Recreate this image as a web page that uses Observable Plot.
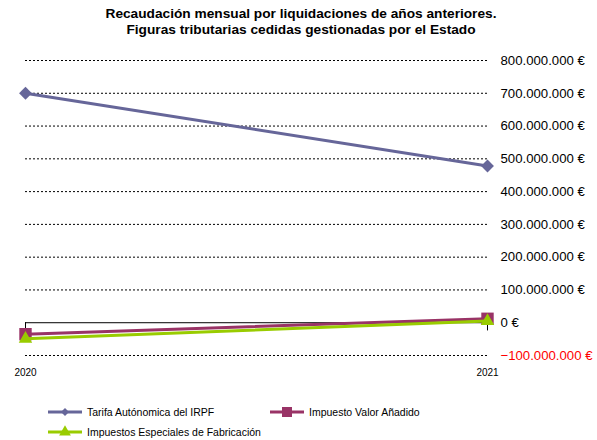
<!DOCTYPE html>
<html>
<head>
<meta charset="utf-8">
<script src="https://cdn.jsdelivr.net/npm/d3@7"></script>
<script src="https://cdn.jsdelivr.net/npm/@observablehq/plot@0.6"></script>
<style>
  html, body { margin: 0; padding: 0; background: #fff; }
  body { width: 597px; height: 440px; position: relative; font-family: "Liberation Sans", Arial, sans-serif; overflow: hidden; }
  #title { position: absolute; left: 0; top: 6px; width: 602px; text-align: center; font-weight: bold; font-size: 13.7px; line-height: 16px; color: #000; }
  #chart { position: absolute; left: 0; top: 44px; }
  .leg { position: absolute; font-size: 10.5px; color: #000; display: flex; align-items: center; white-space: nowrap; }
  .leg svg { margin-right: 5px; }
</style>
</head>
<body>
<div id="title">Recaudación mensual por liquidaciones de años anteriores.<br>Figuras tributarias cedidas gestionadas por el Estado</div>
<div id="chart"></div>
<div id="legend"></div>
<script>
const years = [2020, 2021];
const seriesNames = ["Tarifa Autónomica del IRPF", "Impuesto Valor Añadido", "Impuestos Especiales de Fabricación"];
const irpf = [700000000, 478000000];
const iva = [-35000000, 12000000];
const especiales = [-49000000, 5000000];
const yTicks = [-100000000, 0, 100000000, 200000000, 300000000, 400000000, 500000000, 600000000, 700000000, 800000000];

const colors = ["#666699", "#993366", "#99CC00"];
const symbols = ["diamond2", "square", "triangle"];
const radii = [5.8, 7.0, 5.0];

const seriesValues = [irpf, iva, especiales];
const data = [];
seriesNames.forEach((name, i) => {
  years.forEach((yr, j) => data.push({serie: name, year: yr, value: seriesValues[i][j]}));
});

const locale = d3.formatLocale({decimal: ",", thousands: ".", grouping: [3], currency: ["", " €"]});
const fmt = locale.format(",.0f");
const tickFormat = d => fmt(d) + " €";

const lineMarks = [];
seriesNames.forEach((name, i) => {
  const rows = data.filter(d => d.serie === name);
  lineMarks.push(Plot.line(rows, {x: "year", y: "value", stroke: colors[i], strokeWidth: 3}));
  lineMarks.push(Plot.dot(rows, {x: "year", y: "value", fill: colors[i], stroke: "none", symbol: symbols[i], r: radii[i]}));
});

const chart = Plot.plot({
  width: 597,
  height: 346,
  marginTop: 16,
  marginBottom: 35,
  marginLeft: 25,
  marginRight: 110,
  style: {fontFamily: "'Liberation Sans', Arial, sans-serif", background: "transparent", color: "#000"},
  x: {type: "point", domain: years, padding: 0},
  y: {domain: [-100000000, 800000000]},
  marks: [
    Plot.ruleY(yTicks.filter(d => d !== 0), {stroke: "#000", strokeWidth: 1, strokeDasharray: "2,2"}),
    Plot.ruleY([0], {stroke: "#000", strokeWidth: 1}),
    Plot.ruleX(years, {x: d => d, y1: 0, y2: -25000000, stroke: "#000", strokeWidth: 1}),
    Plot.axisY({anchor: "right", ticks: yTicks, tickSize: 0, tickPadding: 13, tickFormat, fontSize: 13.2, textAnchor: "start", fill: d => d < 0 ? "#ff0000" : "#000000", label: null}),
    Plot.axisX({ticks: years, tickSize: 0, tickPadding: 13, tickFormat: d => String(d), fontSize: 10, label: null}),
    ...lineMarks
  ]
});
document.getElementById("chart").appendChild(chart);

// Legend
const legendPos = [[48, 412], [270, 412], [48, 432]];
const legend = document.getElementById("legend");
seriesNames.forEach((name, i) => {
  const div = document.createElement("div");
  div.className = "leg";
  div.style.left = legendPos[i][0] + "px";
  div.style.top = (legendPos[i][1] - 7) + "px";
  div.style.height = "14px";
  const ns = "http://www.w3.org/2000/svg";
  const svg = document.createElementNS(ns, "svg");
  svg.setAttribute("width", 34);
  svg.setAttribute("height", 14);
  const ln = document.createElementNS(ns, "line");
  ln.setAttribute("x1", 0); ln.setAttribute("x2", 34); ln.setAttribute("y1", 7); ln.setAttribute("y2", 7);
  ln.setAttribute("stroke", colors[i]); ln.setAttribute("stroke-width", 3);
  svg.appendChild(ln);
  const symMap = {diamond2: d3.symbolDiamond2, square: d3.symbolSquare, triangle: d3.symbolTriangle};
  const sizes = [40, 100, 60];
  const p = document.createElementNS(ns, "path");
  p.setAttribute("d", d3.symbol(symMap[symbols[i]], sizes[i])());
  p.setAttribute("transform", "translate(17,7)");
  p.setAttribute("fill", colors[i]);
  svg.appendChild(p);
  div.appendChild(svg);
  const span = document.createElement("span");
  span.textContent = name;
  div.appendChild(span);
  legend.appendChild(div);
});
</script>
</body>
</html>
